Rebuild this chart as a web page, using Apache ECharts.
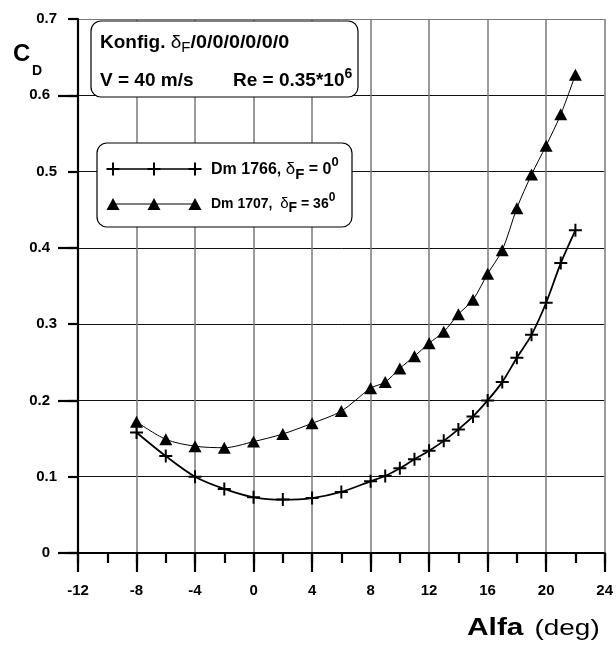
<!DOCTYPE html>
<html>
<head>
<meta charset="utf-8">
<script src="https://cdn.jsdelivr.net/npm/echarts@6/dist/echarts.min.js"></script>
<style>html,body{margin:0;padding:0;background:#fff;}#c{width:616px;height:650px;}</style>
</head>
<body>
<div id="c"></div>
<script>
// ---- data ----
const alpha1766 = [-8,-6,-4,-2,0,2,4,6,8,9,10,11,12,13,14,15,16,17,18,19,20,21,22];
const cd1766    = [0.158,0.127,0.100,0.084,0.073,0.070,0.072,0.080,0.094,0.101,0.111,0.123,0.134,0.147,0.162,0.179,0.200,0.224,0.256,0.286,0.328,0.380,0.423];
const alpha1707 = [-8,-6,-4,-2,0,2,4,6,8,9,10,11,12,13,14,15,16,17,18,19,20,21,22];
const cd1707    = [0.172,0.149,0.140,0.138,0.146,0.156,0.170,0.186,0.216,0.224,0.242,0.258,0.275,0.290,0.313,0.332,0.366,0.397,0.452,0.496,0.534,0.575,0.627];
const xTicks = [-12,-8,-4,0,4,8,12,16,20,24];
const yLabelsOdd = [0.1,0.3,0.5,0.7];
const yLabelsEven = [0,0.2,0.4,0.6];

const FF = '"Liberation Sans", Arial, sans-serif';
const crossPath = 'path://M5.5,0H7.5V5.5H13V7.5H7.5V13H5.5V7.5H0V5.5H5.5Z';

const ctx = document.createElement('canvas').getContext('2d');
function runs(x, yBase, parts) {
  const els = [];
  let cx = x;
  for (const p of parts) {
    const font = (p.w || 'bold') + ' ' + p.s + 'px ' + FF;
    ctx.font = font;
    const sx = p.sx || 1;
    const yb = yBase + (p.dy || 0);
    els.push({type:'text', x: cx, y: yb - 0.35 * p.s, z: 100, scaleX: sx,
      style:{text:p.t, font:font, fill:'#000', textAlign:'left', textVerticalAlign:'middle'}});
    cx += ctx.measureText(p.t).width * sx + (p.gap || 0);
  }
  return els;
}
function cross(x, y, h) {
  return [
    {type:'line', z:100, shape:{x1:x-h, y1:y, x2:x+h, y2:y}, style:{stroke:'#000', lineWidth:2}},
    {type:'line', z:100, shape:{x1:x, y1:y-h, x2:x, y2:y+h}, style:{stroke:'#000', lineWidth:2}}
  ];
}
function tri(x, y, w, h) {
  return {type:'polygon', z:100, shape:{points:[[x, y-h/2],[x+w/2, y+h/2],[x-w/2, y+h/2]]}, style:{fill:'#000'}};
}

const graphics = [].concat(
  // C_D
  runs(13, 63, [{t:'C', s:24}]),
  runs(32, 76, [{t:'D', s:14}]),
  // Alfa (deg)
  runs(467, 637, [{t:'Alfa', s:23, sx:1.3, gap:11}, {t:'(deg)', s:22, w:'normal', sx:1.27}]),
  // box 1
  [{type:'rect', z:99, shape:{x:91, y:21, width:267, height:76, r:10}, style:{fill:'#fff', stroke:'#000', lineWidth:1.2}}],
  runs(100, 49, [{t:'Konfig. ', s:19}, {t:'δ', s:19, w:'normal'}, {t:'F', s:15, w:'normal', dy:4}, {t:'/0/0/0/0/0/0', s:19, sx:1.04}]),
  runs(100, 87, [{t:'V = 40 m/s', s:19}]),
  runs(233, 87, [{t:'Re = 0.35*10', s:19}, {t:'6', s:14, dy:-8}]),
  // box 2
  [{type:'rect', z:99, shape:{x:97, y:143, width:255, height:84, r:10}, style:{fill:'#fff', stroke:'#000', lineWidth:1.2}}],
  [{type:'line', z:100, shape:{x1:113, y1:169, x2:195, y2:169}, style:{stroke:'#000', lineWidth:1.5}}],
  cross(113,169,6.5), cross(154,169,6.5), cross(195,169,6.5),
  runs(211, 175, [{t:'Dm 1766, ', s:16}, {t:'δ', s:17, w:'normal'}, {t:'F', s:15, dy:5}, {t:' = 0', s:16}, {t:'0', s:13, dy:-8}]),
  [{type:'line', z:100, shape:{x1:113, y1:204, x2:195, y2:204}, style:{stroke:'#000', lineWidth:1}}],
  [tri(113,204,13,12), tri(154,204,13,12), tri(195,204,13,12)],
  runs(211, 209, [{t:'Dm 1707,  ', s:14}, {t:'δ', s:15, w:'normal'}, {t:'F', s:14, dy:4}, {t:' = 36', s:14}, {t:'0', s:12, dy:-7}])
);

const axisFont = {fontWeight:'bold', fontSize:15, color:'#000', fontFamily:FF};
const chart = echarts.init(document.getElementById('c'), null, {renderer:'canvas'});
chart.setOption({
  animation:false,
  backgroundColor:'#fff',
  grid:{left:78, right:7, top:19, bottom:97},
  xAxis:[
    {type:'value', min:-12, max:24, interval:4, position:'bottom',
     axisLine:{show:true, onZero:false, lineStyle:{color:'#000', width:2.2}},
     axisTick:{show:true, length:19, lineStyle:{color:'#000', width:2.2}},
     axisLabel:Object.assign({margin:30, customValues:xTicks}, axisFont),
     splitLine:{show:true, lineStyle:{color:'#7a7a7a', width:1.5}}},
    {type:'value', min:-12, max:24, interval:2, position:'bottom',
     axisLine:{show:false, onZero:false},
     axisTick:{show:true, length:10, lineStyle:{color:'#000', width:2.2}},
     axisLabel:{show:false}, splitLine:{show:false}}
  ],
  yAxis:[
    {type:'value', min:0, max:0.7, interval:0.1, position:'left',
     axisLine:{show:true, onZero:false, lineStyle:{color:'#000', width:2.2}},
     axisTick:{show:true, length:10, lineStyle:{color:'#000', width:2.2}},
     axisLabel:Object.assign({margin:21, customValues:yLabelsOdd, formatter:v => v.toFixed(1)}, axisFont),
     splitLine:{show:true, lineStyle:{color:['#111','#111','#111','#111','#111','#111','#111','#7a7a7a'], width:1}}},
    {type:'value', min:0, max:0.7, position:'left',
     axisLine:{show:false, onZero:false},
     axisTick:{show:true, length:20, customValues:yLabelsEven, lineStyle:{color:'#000', width:2.2}},
     axisLabel:Object.assign({margin:28, customValues:yLabelsEven, formatter:v => v === 0 ? '0' : v.toFixed(1)}, axisFont),
     splitLine:{show:false}}
  ],
  series:[
    {type:'line', name:'Dm 1766', xAxisIndex:0, yAxisIndex:0,
     data:alpha1766.map((a,i) => [a, cd1766[i]]),
     smooth:0.3, symbol:crossPath, symbolSize:13,
     lineStyle:{color:'#000', width:1.8}, itemStyle:{color:'#000'}, z:5},
    {type:'line', name:'Dm 1707', xAxisIndex:0, yAxisIndex:0,
     data:alpha1707.map((a,i) => [a, cd1707[i]]),
     smooth:0.3, symbol:'triangle', symbolSize:[13,12],
     lineStyle:{color:'#000', width:1}, itemStyle:{color:'#000'}, z:5}
  ],
  graphic:{elements:graphics}
});
</script>
</body>
</html>
